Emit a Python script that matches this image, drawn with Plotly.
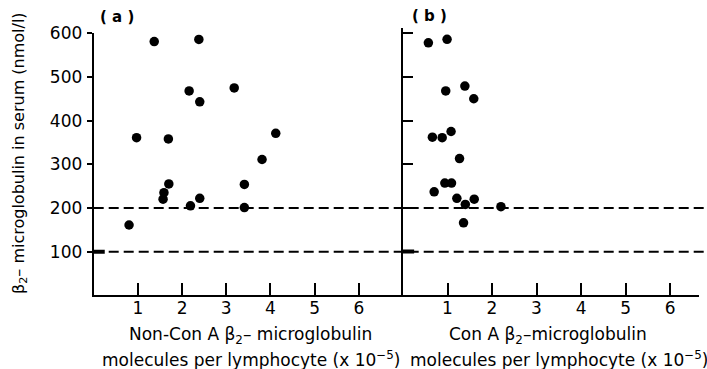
import plotly.graph_objects as go

# ---- data ----
non_cona_x = [0.80, 0.97, 1.37, 1.69, 1.70, 1.59, 1.57, 2.16, 2.19, 2.38, 2.40, 2.40, 3.18, 3.41, 3.41, 3.81, 4.12]
non_cona_y = [161, 361, 581, 358, 255, 235, 220, 468, 205, 586, 443, 222, 475, 254, 201, 311, 371]
cona_x = [0.57, 0.99, 0.96, 1.39, 1.59, 0.66, 0.88, 1.08, 1.27, 0.70, 0.94, 1.09, 1.21, 1.40, 1.60, 2.20, 1.36]
cona_y = [578, 586, 468, 479, 450, 362, 361, 375, 313, 237, 257, 257, 222, 208, 220, 203, 166]
limit_levels = [200, 100]
x_ticks = [1, 2, 3, 4, 5, 6]
y_ticks = [100, 200, 300, 400, 500, 600]

W, H = 707, 369
FONT = "DejaVu Sans"

def px_x(p):
    return p / W

def px_y(p):
    return (H - p) / H

ybot = px_y(295.3)
fig = go.Figure()
fig.add_trace(go.Scatter(x=non_cona_x, y=non_cona_y, mode="markers", xaxis="x", yaxis="y",
                         marker=dict(color="black", size=9.5), cliponaxis=False, showlegend=False))
fig.add_trace(go.Scatter(x=cona_x, y=cona_y, mode="markers", xaxis="x2", yaxis="y2",
                         marker=dict(color="black", size=9.5), cliponaxis=False, showlegend=False))

axis_common = dict(showgrid=False, zeroline=False, showline=True, linecolor="black", linewidth=2,
                   tickcolor="black", tickwidth=2, automargin=False,
                   tickfont=dict(family=FONT, size=17, color="black"))

fig.update_layout(
    width=W, height=H, autosize=False,
    margin=dict(l=0, r=0, t=0, b=0),
    paper_bgcolor="white", plot_bgcolor="white",
    template="none",
    xaxis=dict(domain=[px_x(93.7), px_x(403)], range=[0, 7], tickvals=x_ticks, ticks="inside",
               ticklen=12, anchor="y", ticklabelstandoff=-4, **axis_common),
    yaxis=dict(domain=[ybot, px_y(33.3)], range=[0, 600], tickvals=y_ticks, ticks="outside",
               ticklen=5, anchor="x", ticklabelstandoff=1, **axis_common),
    xaxis2=dict(domain=[px_x(403), px_x(699)], range=[0, 6.65], tickvals=x_ticks, ticks="inside",
                ticklen=12, anchor="y2", ticklabelstandoff=-4, **axis_common),
    yaxis2=dict(domain=[ybot, px_y(28.0)], range=[0, 612], tickvals=y_ticks, ticks="inside",
                ticklen=10, anchor="x2", showticklabels=False, **axis_common),
)

# dashed limit lines across both panels
for lv in limit_levels:
    fig.add_shape(type="line", xref="paper", yref="y", x0=px_x(93.7), x1=px_x(704), y0=lv, y1=lv,
                  line=dict(color="black", width=2, dash="10px,5px"))
# thick start marks at 100
fig.add_shape(type="line", xref="x", yref="y", x0=0, x1=0.25, y0=100, y1=100,
              line=dict(color="black", width=4))
fig.add_shape(type="line", xref="x2", yref="y2", x0=0, x1=0.25, y0=100, y1=100,
              line=dict(color="black", width=4))

tf = dict(family=FONT, size=17, color="black")
ann = [
    dict(text="<b>( a )</b>", x=px_x(117), y=px_y(17), font=dict(family=FONT, size=15, color="black")),
    dict(text="<b>( b )</b>", x=px_x(429), y=px_y(16), font=dict(family=FONT, size=15, color="black")),
    dict(text="β<sub>2</sub>– microglobulin in serum (nmol/l)", x=px_x(19), y=px_y(153), textangle=-90,
         font=dict(family=FONT, size=16, color="black")),
    dict(text="Non-Con A β<sub>2</sub>– microglobulin", x=px_x(250), y=px_y(335), font=tf),
    dict(text="molecules per lymphocyte (x 10<sup>−5</sup>)", x=px_x(251), y=px_y(359), font=tf),
    dict(text="Con A β<sub>2</sub>–microglobulin", x=px_x(548), y=px_y(335), font=tf),
    dict(text="molecules per lymphocyte (x 10<sup>−5</sup>)", x=px_x(559), y=px_y(359), font=tf),
]
for a in ann:
    fig.add_annotation(xref="paper", yref="paper", showarrow=False, xanchor="center", yanchor="middle", **a)

fig.write_html("out.html", config={"displayModeBar": False},
               post_script="document.body.style.margin='0px';document.body.style.overflow='hidden';")
